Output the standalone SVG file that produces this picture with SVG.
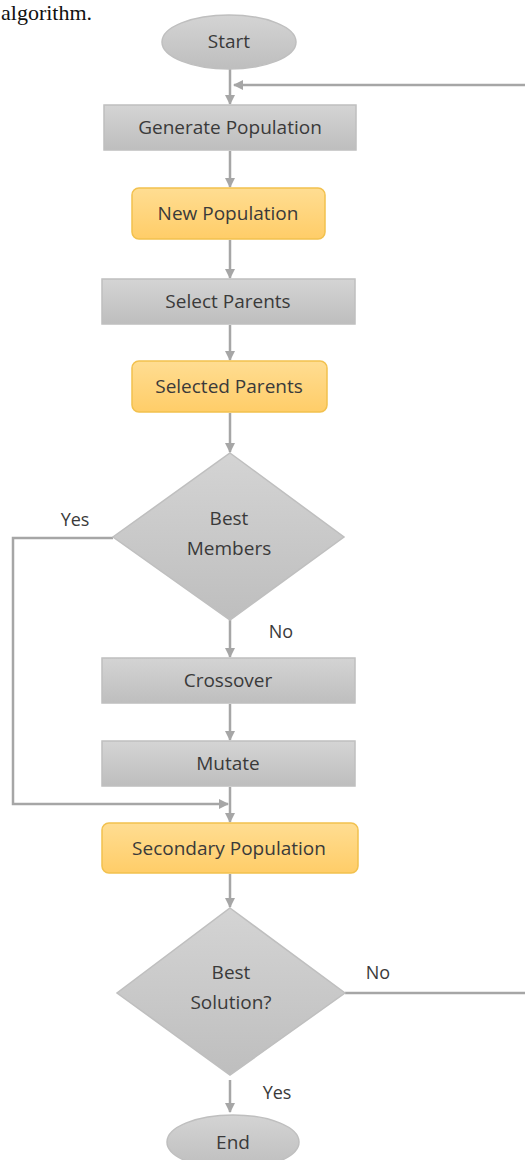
<svg xmlns="http://www.w3.org/2000/svg" width="525" height="1160" viewBox="0 0 525 1160">
<defs>
<linearGradient id="gGray" x1="0" y1="0" x2="0" y2="1">
<stop offset="0" stop-color="#D4D4D4"/><stop offset="1" stop-color="#BEBEBE"/>
</linearGradient>
<linearGradient id="gGold" x1="0" y1="0" x2="0" y2="1">
<stop offset="0" stop-color="#FFDD92"/><stop offset="1" stop-color="#FFCD68"/>
</linearGradient>
<marker id="ah" viewBox="0 0 10 10" refX="9" refY="5" markerWidth="4" markerHeight="4" orient="auto" markerUnits="strokeWidth">
<path d="M0,0 L10,5 L0,10 z" fill="#A6A6A6"/>
</marker>
</defs>
<style>
.gray{fill:url(#gGray);stroke:#BFBFBF;stroke-width:1.5}
.gold{fill:url(#gGold);stroke:#F2C14E;stroke-width:1.5}
.t{font-family:"Open Sans","Liberation Sans",sans-serif;font-size:19px;fill:#3A3A3A;text-anchor:middle}
.lbl{font-family:"Open Sans","Liberation Sans",sans-serif;font-size:18px;fill:#3A3A3A;text-anchor:middle}
.c{fill:none;stroke:#A6A6A6;stroke-width:2.5}
.ca{fill:none;stroke:#A6A6A6;stroke-width:2.5;marker-end:url(#ah)}
</style>
<rect width="525" height="1160" fill="#FFFFFF"/>
<text x="1" y="20" font-family="Liberation Serif, serif" font-size="22" fill="#111">algorithm.</text>

<g id="connectors">
<line class="ca" x1="230" y1="69" x2="230" y2="104"/>
<line class="ca" x1="525" y1="85" x2="234" y2="85"/>
<line class="ca" x1="230" y1="151" x2="230" y2="187"/>
<line class="ca" x1="230" y1="240" x2="230" y2="278"/>
<line class="ca" x1="230" y1="325" x2="230" y2="360"/>
<line class="ca" x1="230" y1="413" x2="230" y2="452"/>
<polyline class="ca" points="113,538 13,538 13,804 228,804"/>
<line class="ca" x1="230" y1="620" x2="230" y2="657"/>
<line class="ca" x1="230" y1="704" x2="230" y2="740"/>
<line class="ca" x1="230" y1="787" x2="230" y2="822"/>
<line class="ca" x1="230" y1="874" x2="230" y2="907"/>
<line class="c" x1="345" y1="993" x2="525" y2="993"/>
<line class="ca" x1="230" y1="1080" x2="230" y2="1112"/>
<text class="lbl" x="75" y="526">Yes</text>
<text class="lbl" x="281" y="638">No</text>
<text class="lbl" x="378" y="979">No</text>
<text class="lbl" x="277" y="1099">Yes</text>
</g>

<g id="start"><ellipse class="gray" cx="229" cy="42" rx="67" ry="27"/><text class="t" x="229" y="48">Start</text></g>
<g id="generate"><rect class="gray" x="104" y="105" width="252" height="45"/><text class="t" x="230" y="134">Generate Population</text></g>
<g id="newpop"><rect class="gold" x="132" y="188" width="193" height="51" rx="7"/><text class="t" x="228" y="220">New Population</text></g>
<g id="select"><rect class="gray" x="102" y="279" width="253" height="45"/><text class="t" x="228" y="308">Select Parents</text></g>
<g id="selected"><rect class="gold" x="132" y="361" width="195" height="51" rx="7"/><text class="t" x="229" y="393">Selected Parents</text></g>
<g id="bestmembers"><polygon class="gray" points="230,453 344,537 230,620 113,537"/><text class="t" x="229" y="525">Best</text><text class="t" x="229" y="555">Members</text></g>
<g id="crossover"><rect class="gray" x="102" y="658" width="253" height="45"/><text class="t" x="228" y="687">Crossover</text></g>
<g id="mutate"><rect class="gray" x="102" y="741" width="253" height="45"/><text class="t" x="228" y="770">Mutate</text></g>
<g id="secondary"><rect class="gold" x="102" y="823" width="256" height="50" rx="7"/><text class="t" x="229" y="855">Secondary Population</text></g>
<g id="bestsolution"><polygon class="gray" points="230,908 345,993 230,1075 117,993"/><text class="t" x="231" y="979">Best</text><text class="t" x="231" y="1009">Solution?</text></g>
<g id="end"><ellipse class="gray" cx="233" cy="1142" rx="66" ry="27"/><text class="t" x="233" y="1149">End</text></g>
</svg>
